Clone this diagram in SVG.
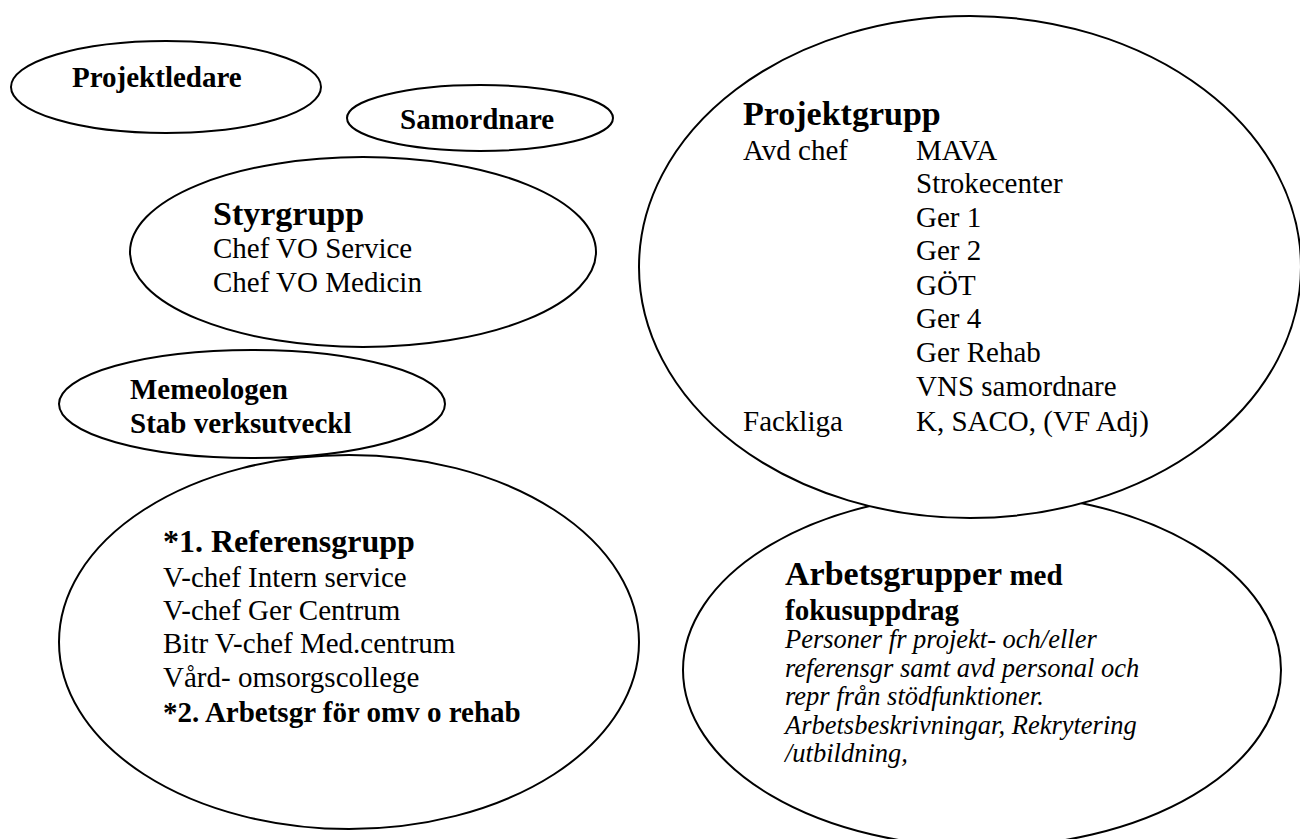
<svg xmlns="http://www.w3.org/2000/svg" width="1300" height="839" viewBox="0 0 1300 839">
<style>
.e{fill:#fff;stroke:#000;stroke-width:2}
text{font-family:"Liberation Serif","Times New Roman",serif;fill:#000}
.t{font-size:29px}
.s{font-size:29px;font-weight:bold}
.h{font-size:34px;font-weight:bold}
.i{font-size:26.5px;font-style:italic}
</style>
<rect width="1300" height="839" fill="#fff"/>
<g id="connectors"></g>
<g id="projektledare">
<ellipse class="e" cx="166" cy="87" rx="155" ry="46"/>
<text class="s" x="72" y="87">Projektledare</text>
</g>
<g id="samordnare">
<ellipse class="e" cx="480" cy="118" rx="133" ry="33"/>
<text class="s" x="400" y="129">Samordnare</text>
</g>
<g id="styrgrupp">
<ellipse class="e" cx="363" cy="252" rx="233" ry="95"/>
<text class="h" x="213" y="225">Styrgrupp</text>
<text class="t" x="213" y="258">Chef VO Service</text>
<text class="t" x="213" y="292">Chef VO Medicin</text>
</g>
<g id="referensgrupp">
<ellipse class="e" cx="349" cy="642" rx="290" ry="187"/>
<text class="h" x="163" y="552" style="font-size:32px">*1. Referensgrupp</text>
<text class="t" x="163" y="587">V-chef Intern service</text>
<text class="t" x="163" y="620">V-chef Ger Centrum</text>
<text class="t" x="163" y="653">Bitr V-chef Med.centrum</text>
<text class="t" x="163" y="687">Vård- omsorgscollege</text>
<text class="s" x="163" y="722">*2. Arbetsgr för omv o rehab</text>
</g>
<g id="memeologen">
<ellipse class="e" cx="252" cy="404" rx="193" ry="54"/>
<text class="s" x="130" y="399">Memeologen</text>
<text class="s" x="130" y="433">Stab verksutveckl</text>
</g>
<g id="arbetsgrupper">
<ellipse class="e" cx="982" cy="670" rx="299" ry="177"/>
<text x="785" y="585"><tspan class="h">Arbetsgrupper</tspan><tspan class="s"> med</tspan></text>
<text class="s" x="785" y="620">fokusuppdrag</text>
<text class="i" x="785" y="648">Personer fr projekt- och/eller</text>
<text class="i" x="785" y="677">referensgr samt avd personal och</text>
<text class="i" x="785" y="705">repr från stödfunktioner.</text>
<text class="i" x="785" y="734">Arbetsbeskrivningar, Rekrytering</text>
<text class="i" x="785" y="762">/utbildning,</text>
</g>
<g id="projektgrupp">
<ellipse class="e" cx="970" cy="267" rx="331" ry="251"/>
<text class="h" x="743" y="125">Projektgrupp</text>
<text class="t" x="743" y="160">Avd chef</text>
<text class="t" x="916" y="160">MAVA</text>
<text class="t" x="916" y="193">Strokecenter</text>
<text class="t" x="916" y="227">Ger 1</text>
<text class="t" x="916" y="260">Ger 2</text>
<text class="t" x="916" y="295">GÖT</text>
<text class="t" x="916" y="328">Ger 4</text>
<text class="t" x="916" y="362">Ger Rehab</text>
<text class="t" x="916" y="396">VNS samordnare</text>
<text class="t" x="743" y="431">Fackliga</text>
<text class="t" x="916" y="431">K, SACO, (VF Adj)</text>
</g>
</svg>
